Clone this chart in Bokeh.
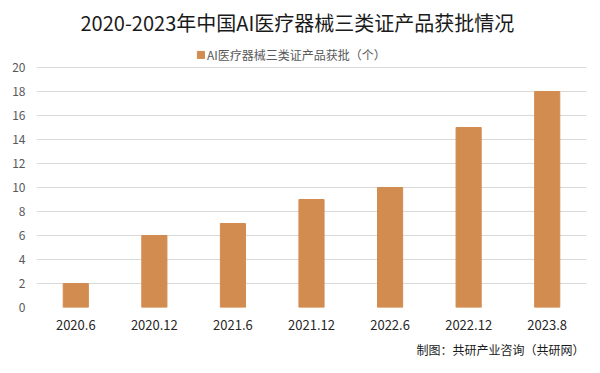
from bokeh.plotting import figure
from bokeh.models import ColumnDataSource, Legend, LegendItem, FixedTicker, Range1d, Title
from bokeh.embed import file_html
from bokeh.resources import INLINE

categories = ["2020.6", "2020.12", "2021.6", "2021.12", "2022.6", "2022.12", "2023.8"]
values = [2, 6, 7, 9, 10, 15, 18]
y_ticks = [0, 2, 4, 6, 8, 10, 12, 14, 16, 18, 20]
title_text = "2020-2023年中国AI医疗器械三类证产品获批情况"
legend_text = "AI医疗器械三类证产品获批（个）"
source_text = "制图：共研产业咨询（共研网）"

FONT = "Noto Sans CJK SC"
BAR = "#D38C50"

src = ColumnDataSource(dict(x=categories, top=values))

# frame extends above 20 so that the legend row sits inside it
p = figure(width=600, height=373, x_range=categories, y_range=Range1d(0, 20 + 27 / 12),
           output_backend="svg", toolbar_location=None,
           min_border_left=36, min_border_right=14, min_border_top=40, min_border_bottom=66)
p.outline_line_color = None
p.background_fill_color = "white"
p.border_fill_color = "white"

r = p.vbar(x="x", top="top", width=0.32, source=src, fill_color=BAR, line_color=BAR)

p.xgrid.grid_line_color = None
p.ygrid.grid_line_color = "#D9D9D9"
p.ygrid.grid_line_width = 1
p.yaxis.ticker = FixedTicker(ticks=y_ticks)

for ax in (p.xaxis[0], p.yaxis[0]):
    ax.axis_line_color = None
    ax.major_tick_line_color = None
    ax.major_tick_out = 0
    ax.minor_tick_line_color = None
    ax.major_label_text_font = FONT
    ax.major_label_text_font_size = "12px"
p.yaxis.major_label_text_color = "#595959"
p.yaxis.major_label_standoff = 11
p.xaxis.major_label_text_color = "#262626"
p.xaxis.major_label_text_font_size = "13px"
p.xaxis.major_label_standoff = 12

# title
p.title.text = title_text
p.title.text_font = FONT
p.title.text_font_size = "20px"
p.title.text_font_style = "normal"
p.title.text_color = "#1a1a1a"
p.title.align = "left"
p.title.offset = 44
p.title.standoff = 8

legend = Legend(items=[LegendItem(label=legend_text, renderers=[r])],
                location=(160, 244), orientation="horizontal",
                padding=0, margin=0, border_line_color=None, background_fill_alpha=0,
                glyph_width=9, glyph_height=9, label_height=12,
                label_text_font=FONT,
                label_text_font_size="12px", label_text_color="#595959", label_standoff=2)
p.add_layout(legend, "center")

footer = Title(text=source_text, align="right", offset=2, standoff=13,
               text_font=FONT, text_font_size="12px", text_font_style="normal",
               text_color="#1a1a1a")
p.add_layout(footer, "below")

open("out.html", "w").write(file_html(p, INLINE))
